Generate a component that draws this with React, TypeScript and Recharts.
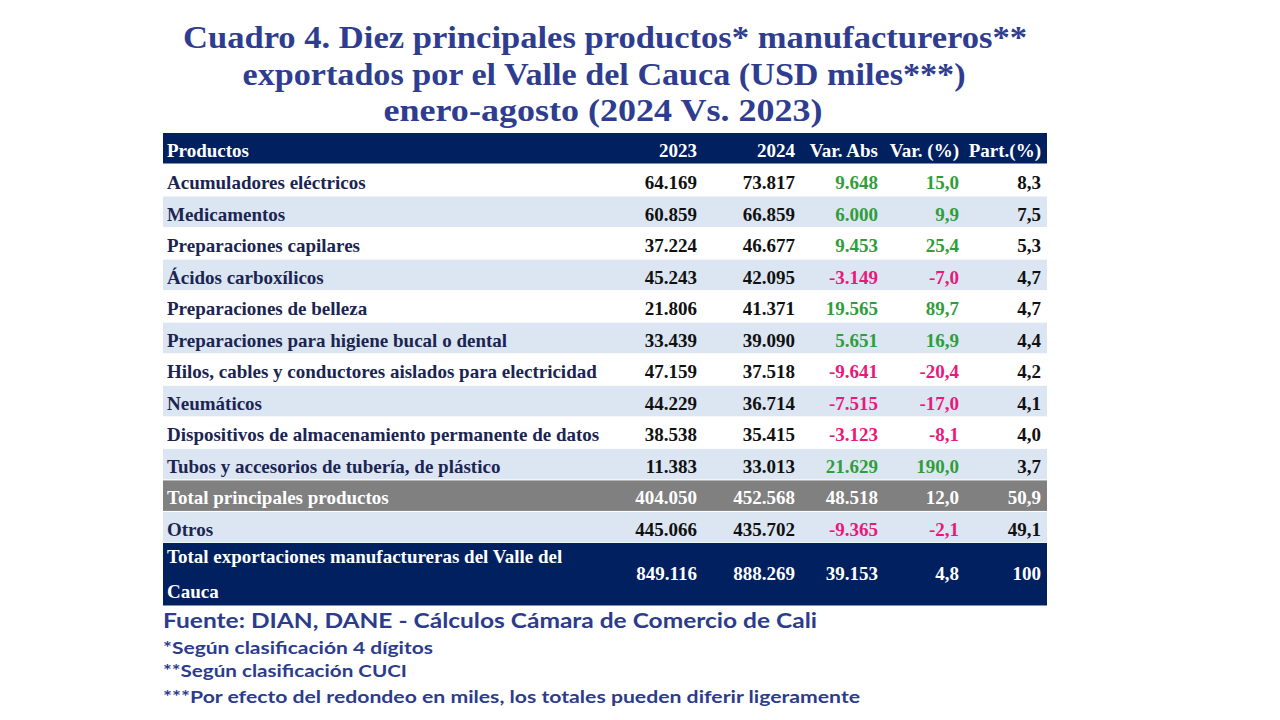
import { ComposedChart, Bar, XAxis, YAxis } from "recharts";

// column headers
const columns = ["Productos", "2023", "2024", "Var. Abs", "Var. (%)", "Part.(%)"];

// ten main products, USD miles
const productos = [
  "Acumuladores eléctricos",
  "Medicamentos",
  "Preparaciones capilares",
  "Ácidos carboxílicos",
  "Preparaciones de belleza",
  "Preparaciones para higiene bucal o dental",
  "Hilos, cables y conductores aislados para electricidad",
  "Neumáticos",
  "Dispositivos de almacenamiento permanente de datos",
  "Tubos y accesorios de tubería, de plástico",
];
const v2023 = [64169, 60859, 37224, 45243, 21806, 33439, 47159, 44229, 38538, 11383];
const v2024 = [73817, 66859, 46677, 42095, 41371, 39090, 37518, 36714, 35415, 33013];
const varAbs = [9648, 6000, 9453, -3149, 19565, 5651, -9641, -7515, -3123, 21629];
const varPct = [15.0, 9.9, 25.4, -7.0, 89.7, 16.9, -20.4, -17.0, -8.1, 190.0];
const part = [8.3, 7.5, 5.3, 4.7, 4.7, 4.4, 4.2, 4.1, 4.0, 3.7];

// totals
const totalLabels = [
  "Total principales productos",
  "Otros",
  "Total exportaciones manufactureras del Valle del Cauca",
];
const total2023 = [404050, 445066, 849116];
const total2024 = [452568, 435702, 888269];
const totalAbs = [48518, -9365, 39153];
const totalPct = [12.0, -2.1, 4.8];
const totalPart = [50.9, 49.1, 100];

const titleLines = [
  "Cuadro 4. Diez principales productos* manufactureros**",
  "exportados por el Valle del Cauca (USD miles***)",
  "enero-agosto (2024 Vs. 2023)",
];
const fuente = "Fuente: DIAN, DANE - Cálculos Cámara de Comercio de Cali";
const notas = [
  "*Según clasificación 4 dígitos",
  "**Según clasificación CUCI",
  "***Por efecto del redondeo en miles, los totales pueden diferir ligeramente",
];

type Row = {
  producto: string;
  kind: "header" | "item" | "subtotal" | "otros" | "total";
  v2023?: number;
  v2024?: number;
  varAbs?: number;
  varPct?: number;
  part?: number;
};

const headerRows: Row[] = [{ producto: columns[0], kind: "header" }];

const mainRows: Row[] = [
  ...productos.map((p, i) => ({
    producto: p,
    kind: "item" as const,
    v2023: v2023[i],
    v2024: v2024[i],
    varAbs: varAbs[i],
    varPct: varPct[i],
    part: part[i],
  })),
  ...[0, 1].map((i) => ({
    producto: totalLabels[i],
    kind: (i === 0 ? "subtotal" : "otros") as Row["kind"],
    v2023: total2023[i],
    v2024: total2024[i],
    varAbs: totalAbs[i],
    varPct: totalPct[i],
    part: totalPart[i],
  })),
];

const finalRows: Row[] = [
  {
    producto: totalLabels[2],
    kind: "total",
    v2023: total2023[2],
    v2024: total2024[2],
    varAbs: totalAbs[2],
    varPct: totalPct[2],
    part: totalPart[2],
  },
];

const NAVY = "#002060";
const STRIPE = "#dce6f2";
const GRAY = "#808080";
const GREEN = "#2f9e3a";
const PINK = "#e8197a";
const INK = "#111111";
const NAME_INK = "#1b2552";
const TABLE_FONT = "'Liberation Serif', serif";
const TABLE_W = 884;
// right edge of each numeric column, from the table's left edge
const COL_RIGHT = [534, 632, 715, 796, 878];

function fmtInt(v: number) {
  const s = Math.abs(v).toString().replace(/\B(?=(\d{3})+(?!\d))/g, ".");
  return v < 0 ? "-" + s : s;
}

function fmtDec(v: number) {
  const s = Math.abs(v).toFixed(1).replace(".", ",");
  return v < 0 ? "-" + s : s;
}

function fmtPart(v: number) {
  return Number.isInteger(v) && v >= 100 ? String(v) : fmtDec(v);
}

function RowCell(props: any) {
  const { x, y, width, height, payload } = props;
  const r = payload as Row;
  const pos = mainRows.indexOf(r);
  let fill = pos % 2 === 0 ? "#ffffff" : STRIPE;
  if (r.kind === "header" || r.kind === "total") fill = NAVY;
  if (r.kind === "subtotal") fill = GRAY;
  const light = r.kind === "header" || r.kind === "total" || r.kind === "subtotal";
  const base = r.kind === "total" ? y + 37 : y + height / 2 + 8;

  const signColor = (v: number) => (light ? "#ffffff" : v < 0 ? PINK : GREEN);
  const cells =
    r.kind === "header"
      ? columns.slice(1).map((c) => ({ text: c, color: "#ffffff" }))
      : [
          { text: fmtInt(r.v2023!), color: light ? "#ffffff" : INK },
          { text: fmtInt(r.v2024!), color: light ? "#ffffff" : INK },
          { text: fmtInt(r.varAbs!), color: signColor(r.varAbs!) },
          { text: fmtDec(r.varPct!), color: signColor(r.varPct!) },
          { text: fmtPart(r.part!), color: light ? "#ffffff" : INK },
        ];

  let nameLines = [r.producto];
  if (r.kind === "total") {
    const cut = r.producto.lastIndexOf(" ");
    nameLines = [r.producto.slice(0, cut), r.producto.slice(cut + 1)];
  }

  return (
    <g>
      <rect x={x} y={y} width={width} height={height - 1.5} fill={fill} />
      {nameLines.map((line, i) => (
        <text
          key={i}
          x={x + 4}
          y={r.kind === "total" ? y + 20 + i * 35 : base}
          fontFamily={TABLE_FONT}
          fontWeight="bold"
          fontSize={19}
          fill={light ? "#ffffff" : NAME_INK}
        >
          {line}
        </text>
      ))}
      {cells.map((c, i) => (
        <text
          key={"c" + i}
          x={x + COL_RIGHT[i]}
          y={base}
          textAnchor="end"
          fontFamily={TABLE_FONT}
          fontWeight="bold"
          fontSize={19}
          fill={c.color}
        >
          {c.text}
        </text>
      ))}
    </g>
  );
}

function TableChart({ data, height }: { data: Row[]; height: number }) {
  return (
    <ComposedChart
      width={TABLE_W}
      height={height}
      data={data}
      layout="vertical"
      margin={{ top: 0, right: 0, bottom: 0, left: 0 }}
      barCategoryGap={0}
    >
      <XAxis type="number" hide domain={[0, 1000000]} />
      <YAxis type="category" dataKey="producto" hide width={0} />
      <Bar
        dataKey={(r: Row) => r.v2024 ?? 1}
        fill="none"
        minPointSize={1}
        isAnimationActive={false}
        background={(p: any) => <RowCell key={p.index} {...p} />}
      />
    </ComposedChart>
  );
}

export default function App() {
  return (
    <div style={{ position: "absolute", left: 0, top: 0, width: 1280, height: 720, background: "#ffffff" }}>
      <svg width={1280} height={720} style={{ position: "absolute", left: 0, top: 0 }}>
        {titleLines.map((t, i) => (
          <text
            key={i}
            x={[605, 604, 603][i]}
            y={[48, 85, 121][i]}
            textAnchor="middle"
            fontFamily={TABLE_FONT}
            fontWeight="bold"
            fontSize={32}
            fill="#2e3d8f"
            textLength={[844, 723, 439][i]}
            lengthAdjust="spacingAndGlyphs"
          >
            {t}
          </text>
        ))}
        <text
          x={163}
          y={628}
          fontFamily="Lato, sans-serif"
          fontWeight="bold"
          fontSize={21}
          fill="#2c3c8c"
          textLength={654}
          lengthAdjust="spacingAndGlyphs"
        >
          {fuente}
        </text>
        {notas.map((n, i) => (
          <text
            key={i}
            x={163}
            y={[654, 677, 703][i]}
            fontFamily="Lato, sans-serif"
            fontWeight="bold"
            fontSize={17}
            fill="#2c3c8c"
            textLength={[270, 244, 697][i]}
            lengthAdjust="spacingAndGlyphs"
          >
            {n}
          </text>
        ))}
      </svg>
      <div style={{ position: "absolute", left: 163, top: 133 }}>
        <TableChart data={headerRows} height={31.5} />
      </div>
      <div style={{ position: "absolute", left: 163, top: 164.5 }}>
        <TableChart data={mainRows} height={378.5} />
      </div>
      <div style={{ position: "absolute", left: 163, top: 543 }}>
        <TableChart data={finalRows} height={63.5} />
      </div>
    </div>
  );
}
